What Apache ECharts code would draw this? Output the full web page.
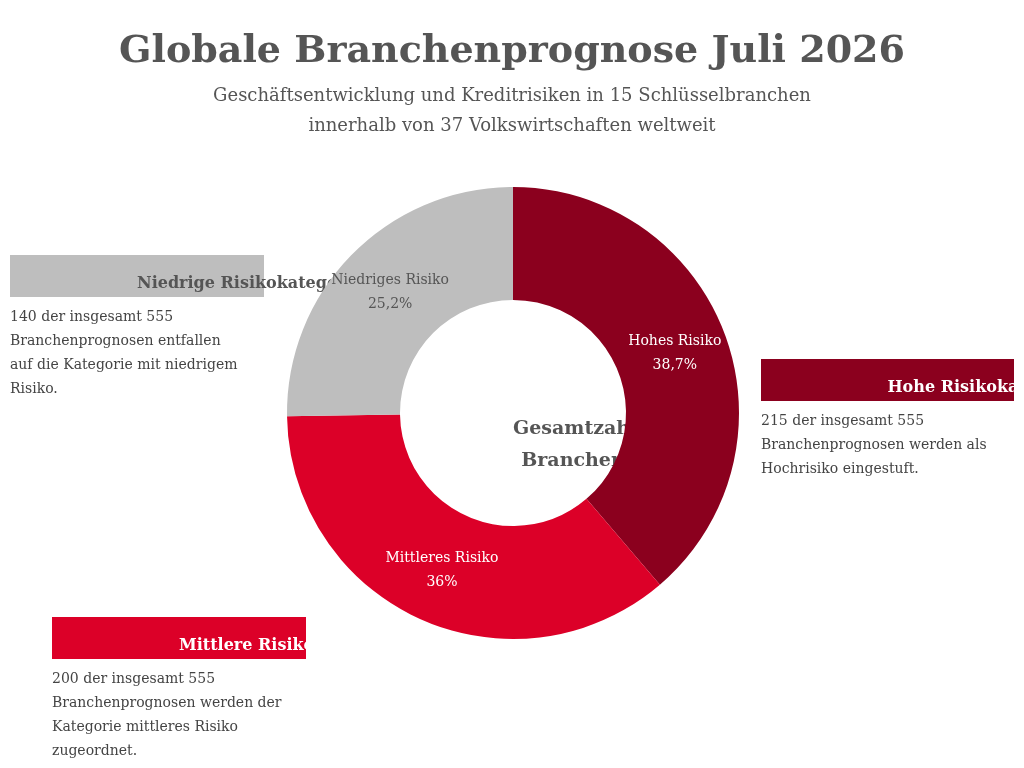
<!DOCTYPE html>
<html>
<head>
<meta charset="utf-8">
<script src="https://cdn.jsdelivr.net/npm/echarts@6/dist/echarts.min.js"></script>
<style>html,body{margin:0;padding:0;background:#fff}#main{width:1024px;height:768px}</style>
</head>
<body>
<div id="main"></div>
<script>
var chart = echarts.init(document.getElementById('main'));
var font = 'DejaVu Serif';

// Risikokategorien
var daten = [
  { name: 'Hohes Risiko', value: 215, color: '#8b001e', label: '#ffffff' },
  { name: 'Mittleres Risiko', value: 200, color: '#dc0028', label: '#ffffff' },
  { name: 'Niedriges Risiko', value: 140, color: '#bebebe', label: '#555555' }
];

var boxen = [
  { x: 10, y: 255, w: 254, title: 'Niedrige Risikokategorie', bg: '#bebebe', fg: '#555555',
    text: '140 der insgesamt 555\nBranchenprognosen entfallen\nauf die Kategorie mit niedrigem\nRisiko.' },
  { x: 761, y: 359, w: 253, title: 'Hohe Risikokategorie', bg: '#8b001e', fg: '#ffffff',
    text: '215 der insgesamt 555\nBranchenprognosen werden als\nHochrisiko eingestuft.' },
  { x: 52, y: 617, w: 254, title: 'Mittlere Risikokategorie', bg: '#dc0028', fg: '#ffffff',
    text: '200 der insgesamt 555\nBranchenprognosen werden der\nKategorie mittleres Risiko\nzugeordnet.' }
];

var graphic = [];
boxen.forEach(function (b) {
  graphic.push({ type: 'rect', left: b.x, top: b.y, shape: { width: b.w, height: 42 }, style: { fill: b.bg } });
  graphic.push({ type: 'text', left: b.x + b.w / 2, top: b.y + 21,
    style: { text: b.title, fill: b.fg, font: 'bold 16px "' + font + '"', textAlign: 'center', textVerticalAlign: 'middle' } });
  graphic.push({ type: 'text', left: b.x, top: b.y + 50,
    style: { text: b.text, fill: '#444444', font: '14px "' + font + '"', lineHeight: 24 } });
});

var option = {
  title: {
    text: 'Globale Branchenprognose Juli 2026',
    subtext: 'Geschäftsentwicklung und Kreditrisiken in 15 Schlüsselbranchen\ninnerhalb von 37 Volkswirtschaften weltweit',
    left: 'center', top: 28, itemGap: 10,
    textStyle: { fontFamily: font, fontSize: 38, fontWeight: 'bold', color: '#555555' },
    subtextStyle: { fontFamily: font, fontSize: 18, color: '#555555', lineHeight: 30 }
  },
  graphic: graphic.concat([{
    type: 'text', left: 513, top: 413,
    style: { text: 'Gesamtzahl der\nBranchen 555', fill: '#555555', font: 'bold 19px "' + font + '"',
      textAlign: 'center', textVerticalAlign: 'middle', lineHeight: 32 }
  }]),
  series: [{
    type: 'pie',
    center: [513, 413],
    radius: [113, 226],
    startAngle: 90,
    clockwise: true,
    label: {
      position: 'inside', fontFamily: font, fontSize: 14, lineHeight: 24,
      formatter: function (p) { return p.name + '\n' + String(Math.round(p.percent * 10) / 10).replace('.', ','); }
    },
    labelLine: { show: false },
    emphasis: { disabled: true },
    data: daten.map(function (d) {
      return { name: d.name, value: d.value, itemStyle: { color: d.color }, label: { color: d.label,
        formatter: function (p) { return p.name + '\n' + String(Math.round(p.percent * 10) / 10).replace('.', ',') + '%'; } } };
    })
  }]
};
chart.setOption(option);
</script>
</body>
</html>
